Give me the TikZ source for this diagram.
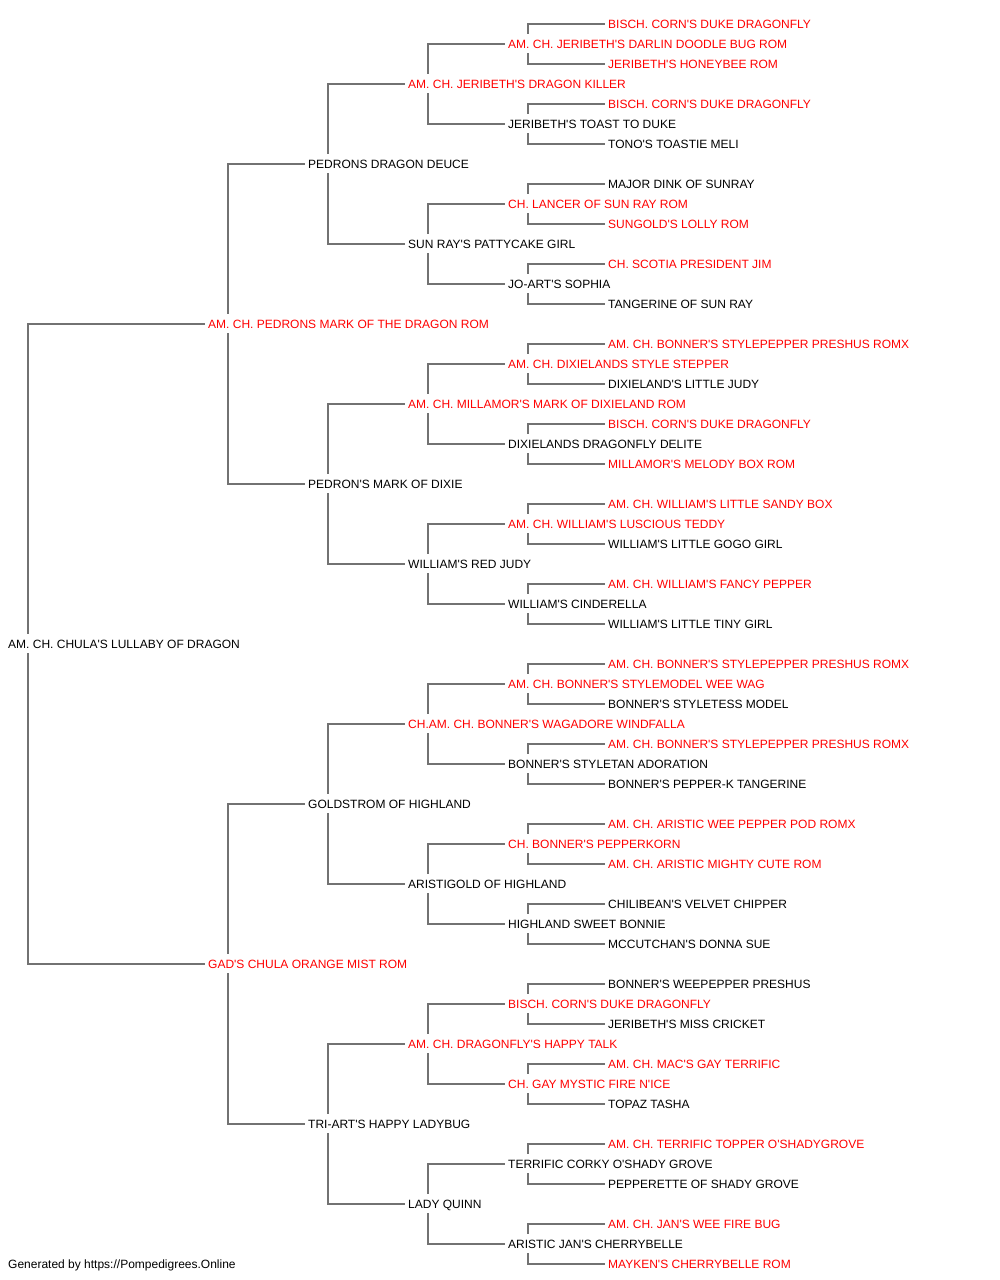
\documentclass[tikz,border=0pt]{standalone}
\usepackage{fontspec}
\newfontfamily\pedfont{Liberation Sans}
\usepackage{tikz}
\usetikzlibrary{backgrounds}
\definecolor{champ}{HTML}{FF0000}
\definecolor{linegray}{HTML}{727272}
\tikzset{
  dog/.style={anchor=base west, xshift=-3pt, yshift=-4.3pt, inner xsep=3pt, inner ysep=0pt,
    text height=14.1pt, text depth=4.9pt, fill=white, text=black,
    font=\pedfont\fontsize{12}{14}\selectfont},
  champdog/.style={dog, text=champ},
  link/.style={draw=linegray, line width=1.7pt},
}

\begin{document}
\begin{tikzpicture}[x=1pt,y=-1pt]
        \useasboundingbox (0,0) rectangle (1000,1280);

        % generation 0 and 1
        \node[dog] (N31) at (8,644) {AM. CH. CHULA'S LULLABY OF DRAGON};
        \node[champdog] (N15) at (208,324) {AM. CH. PEDRONS MARK OF THE DRAGON ROM};
        \node[champdog] (N47) at (208,964) {GAD'S CHULA ORANGE MIST ROM};

        % generation 2
        \node[dog] (N7) at (308,164) {PEDRONS DRAGON DEUCE};
        \node[dog] (N23) at (308,484) {PEDRON'S MARK OF DIXIE};
        \node[dog] (N39) at (308,804) {GOLDSTROM OF HIGHLAND};
        \node[dog] (N55) at (308,1124) {TRI-ART'S HAPPY LADYBUG};

        % generation 3
        \node[champdog] (N3) at (408,84) {AM. CH. JERIBETH'S DRAGON KILLER};
        \node[dog] (N11) at (408,244) {SUN RAY'S PATTYCAKE GIRL};
        \node[champdog] (N19) at (408,404) {AM. CH. MILLAMOR'S MARK OF DIXIELAND ROM};
        \node[dog] (N27) at (408,564) {WILLIAM'S RED JUDY};
        \node[champdog] (N35) at (408,724) {CH.AM. CH. BONNER'S WAGADORE WINDFALLA};
        \node[dog] (N43) at (408,884) {ARISTIGOLD OF HIGHLAND};
        \node[champdog] (N51) at (408,1044) {AM. CH. DRAGONFLY'S HAPPY TALK};
        \node[dog] (N59) at (408,1204) {LADY QUINN};

        % generation 4
        \node[champdog] (N1) at (508,44) {AM. CH. JERIBETH'S DARLIN DOODLE BUG ROM};
        \node[dog] (N5) at (508,124) {JERIBETH'S TOAST TO DUKE};
        \node[champdog] (N9) at (508,204) {CH. LANCER OF SUN RAY ROM};
        \node[dog] (N13) at (508,284) {JO-ART'S SOPHIA};
        \node[champdog] (N17) at (508,364) {AM. CH. DIXIELANDS STYLE STEPPER};
        \node[dog] (N21) at (508,444) {DIXIELANDS DRAGONFLY DELITE};
        \node[champdog] (N25) at (508,524) {AM. CH. WILLIAM'S LUSCIOUS TEDDY};
        \node[dog] (N29) at (508,604) {WILLIAM'S CINDERELLA};
        \node[champdog] (N33) at (508,684) {AM. CH. BONNER'S STYLEMODEL WEE WAG};
        \node[dog] (N37) at (508,764) {BONNER'S STYLETAN ADORATION};
        \node[champdog] (N41) at (508,844) {CH. BONNER'S PEPPERKORN};
        \node[dog] (N45) at (508,924) {HIGHLAND SWEET BONNIE};
        \node[champdog] (N49) at (508,1004) {BISCH. CORN'S DUKE DRAGONFLY};
        \node[champdog] (N53) at (508,1084) {CH. GAY MYSTIC FIRE N'ICE};
        \node[dog] (N57) at (508,1164) {TERRIFIC CORKY O'SHADY GROVE};
        \node[dog] (N61) at (508,1244) {ARISTIC JAN'S CHERRYBELLE};

        % generation 5
        \node[champdog] (N0) at (608,24) {BISCH. CORN'S DUKE DRAGONFLY};
        \node[champdog] (N2) at (608,64) {JERIBETH'S HONEYBEE ROM};
        \node[champdog] (N4) at (608,104) {BISCH. CORN'S DUKE DRAGONFLY};
        \node[dog] (N6) at (608,144) {TONO'S TOASTIE MELI};
        \node[dog] (N8) at (608,184) {MAJOR DINK OF SUNRAY};
        \node[champdog] (N10) at (608,224) {SUNGOLD'S LOLLY ROM};
        \node[champdog] (N12) at (608,264) {CH. SCOTIA PRESIDENT JIM};
        \node[dog] (N14) at (608,304) {TANGERINE OF SUN RAY};
        \node[champdog] (N16) at (608,344) {AM. CH. BONNER'S STYLEPEPPER PRESHUS ROMX};
        \node[dog] (N18) at (608,384) {DIXIELAND'S LITTLE JUDY};
        \node[champdog] (N20) at (608,424) {BISCH. CORN'S DUKE DRAGONFLY};
        \node[champdog] (N22) at (608,464) {MILLAMOR'S MELODY BOX ROM};
        \node[champdog] (N24) at (608,504) {AM. CH. WILLIAM'S LITTLE SANDY BOX};
        \node[dog] (N26) at (608,544) {WILLIAM'S LITTLE GOGO GIRL};
        \node[champdog] (N28) at (608,584) {AM. CH. WILLIAM'S FANCY PEPPER};
        \node[dog] (N30) at (608,624) {WILLIAM'S LITTLE TINY GIRL};
        \node[champdog] (N32) at (608,664) {AM. CH. BONNER'S STYLEPEPPER PRESHUS ROMX};
        \node[dog] (N34) at (608,704) {BONNER'S STYLETESS MODEL};
        \node[champdog] (N36) at (608,744) {AM. CH. BONNER'S STYLEPEPPER PRESHUS ROMX};
        \node[dog] (N38) at (608,784) {BONNER'S PEPPER-K TANGERINE};
        \node[champdog] (N40) at (608,824) {AM. CH. ARISTIC WEE PEPPER POD ROMX};
        \node[champdog] (N42) at (608,864) {AM. CH. ARISTIC MIGHTY CUTE ROM};
        \node[dog] (N44) at (608,904) {CHILIBEAN'S VELVET CHIPPER};
        \node[dog] (N46) at (608,944) {MCCUTCHAN'S DONNA SUE};
        \node[dog] (N48) at (608,984) {BONNER'S WEEPEPPER PRESHUS};
        \node[dog] (N50) at (608,1024) {JERIBETH'S MISS CRICKET};
        \node[champdog] (N52) at (608,1064) {AM. CH. MAC'S GAY TERRIFIC};
        \node[dog] (N54) at (608,1104) {TOPAZ TASHA};
        \node[champdog] (N56) at (608,1144) {AM. CH. TERRIFIC TOPPER O'SHADYGROVE};
        \node[dog] (N58) at (608,1184) {PEPPERETTE OF SHADY GROVE};
        \node[champdog] (N60) at (608,1224) {AM. CH. JAN'S WEE FIRE BUG};
        \node[champdog] (N62) at (608,1264) {MAYKEN'S CHERRYBELLE ROM};

        \node[dog] (credit) at (8,1264) {Generated by https://Pompedigrees.Online};

        % connectors, behind the names
        \begin{scope}[on background layer]
        \draw[link] (N31.west) ++(23,0) |- (N15.west);
        \draw[link] (N31.west) ++(23,0) |- (N47.west);
        \draw[link] (N15.west) ++(23,0) |- (N7.west);
        \draw[link] (N15.west) ++(23,0) |- (N23.west);
        \draw[link] (N47.west) ++(23,0) |- (N39.west);
        \draw[link] (N47.west) ++(23,0) |- (N55.west);
        \draw[link] (N7.west) ++(23,0) |- (N3.west);
        \draw[link] (N7.west) ++(23,0) |- (N11.west);
        \draw[link] (N23.west) ++(23,0) |- (N19.west);
        \draw[link] (N23.west) ++(23,0) |- (N27.west);
        \draw[link] (N39.west) ++(23,0) |- (N35.west);
        \draw[link] (N39.west) ++(23,0) |- (N43.west);
        \draw[link] (N55.west) ++(23,0) |- (N51.west);
        \draw[link] (N55.west) ++(23,0) |- (N59.west);
        \draw[link] (N3.west) ++(23,0) |- (N1.west);
        \draw[link] (N3.west) ++(23,0) |- (N5.west);
        \draw[link] (N11.west) ++(23,0) |- (N9.west);
        \draw[link] (N11.west) ++(23,0) |- (N13.west);
        \draw[link] (N19.west) ++(23,0) |- (N17.west);
        \draw[link] (N19.west) ++(23,0) |- (N21.west);
        \draw[link] (N27.west) ++(23,0) |- (N25.west);
        \draw[link] (N27.west) ++(23,0) |- (N29.west);
        \draw[link] (N35.west) ++(23,0) |- (N33.west);
        \draw[link] (N35.west) ++(23,0) |- (N37.west);
        \draw[link] (N43.west) ++(23,0) |- (N41.west);
        \draw[link] (N43.west) ++(23,0) |- (N45.west);
        \draw[link] (N51.west) ++(23,0) |- (N49.west);
        \draw[link] (N51.west) ++(23,0) |- (N53.west);
        \draw[link] (N59.west) ++(23,0) |- (N57.west);
        \draw[link] (N59.west) ++(23,0) |- (N61.west);
        \draw[link] (N1.west) ++(23,0) |- (N0.west);
        \draw[link] (N1.west) ++(23,0) |- (N2.west);
        \draw[link] (N5.west) ++(23,0) |- (N4.west);
        \draw[link] (N5.west) ++(23,0) |- (N6.west);
        \draw[link] (N9.west) ++(23,0) |- (N8.west);
        \draw[link] (N9.west) ++(23,0) |- (N10.west);
        \draw[link] (N13.west) ++(23,0) |- (N12.west);
        \draw[link] (N13.west) ++(23,0) |- (N14.west);
        \draw[link] (N17.west) ++(23,0) |- (N16.west);
        \draw[link] (N17.west) ++(23,0) |- (N18.west);
        \draw[link] (N21.west) ++(23,0) |- (N20.west);
        \draw[link] (N21.west) ++(23,0) |- (N22.west);
        \draw[link] (N25.west) ++(23,0) |- (N24.west);
        \draw[link] (N25.west) ++(23,0) |- (N26.west);
        \draw[link] (N29.west) ++(23,0) |- (N28.west);
        \draw[link] (N29.west) ++(23,0) |- (N30.west);
        \draw[link] (N33.west) ++(23,0) |- (N32.west);
        \draw[link] (N33.west) ++(23,0) |- (N34.west);
        \draw[link] (N37.west) ++(23,0) |- (N36.west);
        \draw[link] (N37.west) ++(23,0) |- (N38.west);
        \draw[link] (N41.west) ++(23,0) |- (N40.west);
        \draw[link] (N41.west) ++(23,0) |- (N42.west);
        \draw[link] (N45.west) ++(23,0) |- (N44.west);
        \draw[link] (N45.west) ++(23,0) |- (N46.west);
        \draw[link] (N49.west) ++(23,0) |- (N48.west);
        \draw[link] (N49.west) ++(23,0) |- (N50.west);
        \draw[link] (N53.west) ++(23,0) |- (N52.west);
        \draw[link] (N53.west) ++(23,0) |- (N54.west);
        \draw[link] (N57.west) ++(23,0) |- (N56.west);
        \draw[link] (N57.west) ++(23,0) |- (N58.west);
        \draw[link] (N61.west) ++(23,0) |- (N60.west);
        \draw[link] (N61.west) ++(23,0) |- (N62.west);
        \end{scope}
\end{tikzpicture}
\end{document}
